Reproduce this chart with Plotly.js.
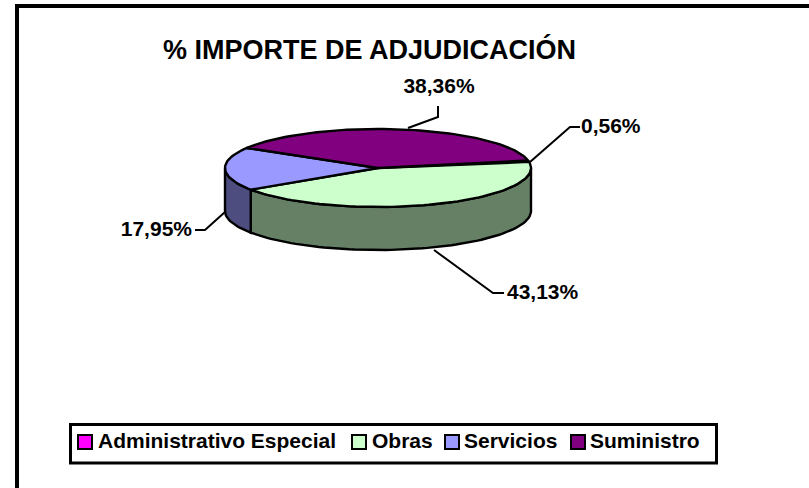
<!DOCTYPE html>
<html><head><meta charset="utf-8">
<script src="https://cdn.plot.ly/plotly-3.0.1.min.js"></script>
<style>html,body{margin:0;padding:0;background:#fff}#c{width:809px;height:488px}</style>
</head><body><div id="c"></div>
<script>
const categories = ['Administrativo Especial','Obras','Servicios','Suministro'];
const shares = [0.56,43.13,17.95,38.36];
const topColors = ['#FF00FF','#CCFFCC','#9999FF','#800080'];
const sideColors = ['#800080','#668066','#4D4D80','#400040'];
const titleText = '% IMPORTE DE ADJUDICACIÓN';
const labelX = [581,507,192,439];
const labelY = [128,294,231,88];
const labelPos = ['middle right','middle right','middle left','middle center'];
const leaderX = [[530,570,580],[434,493,504],[225,205,195],[408,438,438]];
const leaderY = [[162,127,127],[250,293,293],[212,230,230],[128,117,106]];
const swatchX = [85,359,452,578];
const legendTextX = [98,372,464,590];
const FONT = 'Liberation Sans, Arial, sans-serif';
const cx=378, cy=168, rx=153, ry=39, depth=43, startDeg=-11;

const rad=d=>d*Math.PI/180;
function arc(a,b,dy){const xs=[],ys=[];const n=Math.max(2,Math.ceil(Math.abs(b-a)/2));
  for(let i=0;i<=n;i++){const t=rad(a+(b-a)*i/n);xs.push(cx+rx*Math.cos(t));ys.push(cy+dy+ry*Math.sin(t));}
  return [xs,ys];}
const total=shares.reduce((s,v)=>s+v,0);
const traces=[]; let ang=startDeg; const spans=[];
shares.forEach(v=>{const e=ang+v/total*360;spans.push([ang,e]);ang=e;});
spans.forEach((s,i)=>{const a=Math.max(s[0],0),b=Math.min(s[1],180);
  if(b<=a)return;
  const [x1,y1]=arc(a,b,0),[x2,y2]=arc(b,a,depth);
  traces.push({type:'scatter',mode:'lines',x:[...x1,...x2,x1[0]],y:[...y1,...y2,y1[0]],fill:'toself',fillcolor:sideColors[i],
    line:{color:'#000',width:2.4},hoverinfo:'skip',showlegend:false});});
spans.forEach((s,i)=>{const [x,y]=arc(s[0],s[1],0);
  traces.push({type:'scatter',mode:'lines',x:[cx,...x,cx],y:[cy,...y,cy],fill:'toself',fillcolor:topColors[i],
    line:{color:'#000',width:2.4},name:categories[i],hoverinfo:'name',showlegend:false});});
shares.forEach((v,i)=>{
  traces.push({type:'scatter',mode:'lines',x:leaderX[i],y:leaderY[i],line:{color:'#000',width:2},hoverinfo:'skip',showlegend:false});
  traces.push({type:'scatter',mode:'text',x:[labelX[i]],y:[labelY[i]],text:[v.toFixed(2).replace('.',',')+'%'],textposition:labelPos[i],
    textfont:{family:FONT,size:21,color:'#000',weight:700},hoverinfo:'skip',showlegend:false});
});
categories.forEach((c,i)=>{
  traces.push({type:'scatter',mode:'markers',x:[swatchX[i]],y:[442],
    marker:{symbol:'square',size:14,color:topColors[i],line:{color:'#000',width:2}},hoverinfo:'skip',showlegend:false});
  traces.push({type:'scatter',mode:'text',x:[legendTextX[i]],y:[443],text:[c],textposition:'middle right',
    textfont:{family:FONT,size:21,color:'#000',weight:700},hoverinfo:'skip',showlegend:false});
});
const layout={width:809,height:488,margin:{l:0,r:0,t:0,b:0},paper_bgcolor:'#fff',plot_bgcolor:'#fff',showlegend:false,
  title:{text:'<b>'+titleText+'</b>',font:{family:FONT,size:27,color:'#000'},x:369.5/809,xanchor:'center',xref:'paper',y:1-50/488,yanchor:'middle',yref:'container'},
  xaxis:{range:[0,809],visible:false,fixedrange:true},
  yaxis:{range:[488,0],visible:false,fixedrange:true},
  shapes:[
   {type:'rect',layer:'below',x0:70.5,x1:716.5,y0:424.5,y1:463,line:{color:'#000',width:3},fillcolor:'#fff'},
   {type:'line',layer:'below',x0:17,x1:809,y0:6,y1:6,line:{color:'#000',width:4}},
   {type:'line',layer:'below',x0:17,x1:17,y0:4,y1:488,line:{color:'#000',width:4}}
  ]};
Plotly.newPlot('c',traces,layout,{displayModeBar:false,staticPlot:true});
</script></body></html>
